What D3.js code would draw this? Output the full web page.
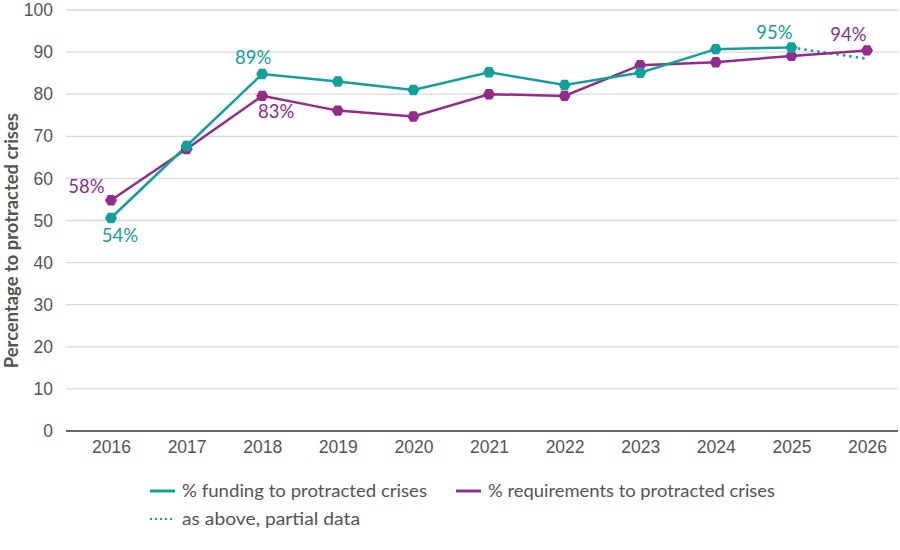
<!DOCTYPE html>
<html lang="en">
<head>
  <meta charset="UTF-8">
  <title>Protracted crises</title>
  <style>
    body { margin: 0; background: #fff; }
    svg { font-family: Lato, "Open Sans", sans-serif; }
    .axis text { fill: #555; }
    .axis path, .axis line { display: none; }
    .grid line { stroke: #d9d9d9; stroke-width: 1.3; }
  </style>
</head>
<body>
  <div id="chart"></div>
  <script src="https://cdn.jsdelivr.net/npm/d3@7"></script>
  <script>
    // data
    var years = ['2016', '2017', '2018', '2019', '2020', '2021', '2022', '2023', '2024', '2025', '2026']
    var funding = [50.6, 67.7, 84.8, 83.0, 81.0, 85.2, 82.2, 85.1, 90.7, 91.1, null]
    var fundingPartial = [null, null, null, null, null, null, null, null, null, 91.1, 88.4]
    var requirements = [54.8, 67.0, 79.6, 76.1, 74.7, 80.0, 79.6, 86.9, 87.6, 89.1, 90.4]
    var yTicks = [0, 10, 20, 30, 40, 50, 60, 70, 80, 90, 100]
    // labels: [series, year, text]
    var labels = [
      ['req', '2016', '58%'],
      ['fund', '2016', '54%'],
      ['fund', '2018', '89%'],
      ['req', '2018', '83%'],
      ['fund', '2025', '95%'],
      ['req', '2026', '94%']
    ]

    var width = 900, height = 550
    var teal = '#11a19b', purple = '#952a8e'
    var padding = {left: 66, right: 2, top: 10, bottom: 119}

    var svg = d3.select('#chart').append('svg')
      .attr('width', width).attr('height', height)

    var xScale = d3.scalePoint()
      .domain(years)
      .range([padding.left + 45, width - padding.right - 31])
    var yScale = d3.scaleLinear()
      .domain([0, 100])
      .range([height - padding.bottom, padding.top])

    // gridlines
    svg.append('g').attr('class', 'grid')
      .selectAll('line').data(yTicks.filter(function (d) { return d > 0 }))
      .enter().append('line')
      .attr('x1', padding.left).attr('x2', width - padding.right)
      .attr('y1', function (d) { return yScale(d) })
      .attr('y2', function (d) { return yScale(d) })
    svg.append('line')
      .attr('x1', padding.left).attr('x2', width - padding.right)
      .attr('y1', yScale(0)).attr('y2', yScale(0))
      .attr('stroke', '#333').attr('stroke-width', 1.6)

    var yAxis = d3.axisLeft(yScale).tickValues(yTicks).tickSize(0).tickPadding(13)
    svg.append('g').attr('class', 'axis')
      .attr('transform', 'translate(' + padding.left + ',0)')
      .call(yAxis)
      .selectAll('text').style('font-size', '17.5px')

    var xAxis = d3.axisBottom(xScale).tickSize(0).tickPadding(10)
    svg.append('g').attr('class', 'axis')
      .attr('transform', 'translate(0,' + yScale(0) + ')')
      .call(xAxis)
      .selectAll('text').style('font-size', '17.5px')

    svg.append('text')
      .attr('transform', 'translate(12,' + yScale(45.2) + ') rotate(-90)')
      .attr('text-anchor', 'middle')
      .attr('dy', '0.35em')
      .attr('textLength', 255).attr('lengthAdjust', 'spacingAndGlyphs')
      .style('font-size', '18px').style('font-weight', 'bold').style('fill', '#555')
      .text('Percentage to protracted crises')

    var line = d3.line()
      .defined(function (d) { return d != null })
      .x(function (d, i) { return xScale(years[i]) })
      .y(function (d) { return yScale(d) })

    svg.append('path').datum(fundingPartial)
      .attr('d', line).attr('fill', 'none')
      .attr('stroke', teal).attr('stroke-width', 2.5)
      .attr('stroke-dasharray', '2.5,4')
    svg.append('path').datum(requirements)
      .attr('d', line).attr('fill', 'none')
      .attr('stroke', purple).attr('stroke-width', 2.5)
    svg.append('path').datum(funding)
      .attr('d', line).attr('fill', 'none')
      .attr('stroke', teal).attr('stroke-width', 2.5)

    // hexagon markers, flat top
    function hexagon(r) {
      var pts = d3.range(6).map(function (k) {
        var a = Math.PI / 3 * k
        return [r * Math.cos(a), r * Math.sin(a)]
      })
      return 'M' + pts.join('L') + 'Z'
    }
    function markers(data, color) {
      svg.append('g').selectAll('path')
        .data(data.map(function (d, i) { return {v: d, y: years[i]} }).filter(function (d) { return d.v != null }))
        .enter().append('path')
        .attr('d', hexagon(6))
        .attr('fill', color)
        .attr('transform', function (d) { return 'translate(' + xScale(d.y) + ',' + yScale(d.v) + ')' })
    }
    markers(requirements, purple)
    markers(funding, teal)

    // data labels
    var offsets = {
      '2016req': [-24.5, -14], '2016fund': [9, 17.5], '2018fund': [-9, -16],
      '2018req': [14, 16], '2025fund': [-17, -15], '2026req': [-18.5, -16]
    }
    svg.append('g').selectAll('text')
      .data(labels).enter().append('text')
      .attr('x', function (d) { return xScale(d[1]) + offsets[d[1] + d[0]][0] })
      .attr('y', function (d) {
        var v = d[0] === 'fund' ? funding[years.indexOf(d[1])] : requirements[years.indexOf(d[1])]
        return yScale(v) + offsets[d[1] + d[0]][1]
      })
      .attr('dy', '0.35em')
      .attr('text-anchor', 'middle')
      .style('font-size', '18.5px')
      .style('fill', function (d) { return d[0] === 'fund' ? teal : purple })
      .text(function (d) { return d[2] })

    // legend
    var legend = [
      {label: '% funding to protracted crises', color: teal, dash: null, x: 150, y: 491, w: 245},
      {label: '% requirements to protracted crises', color: purple, dash: null, x: 456, y: 491, w: 287},
      {label: 'as above, partial data', color: teal, dash: '2,3', x: 150, y: 519, w: 178}
    ]
    var lg = svg.append('g').selectAll('g').data(legend).enter().append('g')
      .attr('transform', function (d) { return 'translate(' + d.x + ',' + d.y + ')' })
    lg.append('line')
      .attr('x1', 0).attr('x2', 25)
      .attr('stroke', function (d) { return d.color })
      .attr('stroke-width', function (d) { return d.dash ? 2 : 3 })
      .attr('stroke-dasharray', function (d) { return d.dash })
    lg.append('text')
      .attr('x', 32).attr('dy', '0.35em')
      .attr('textLength', function (d) { return d.w })
      .attr('lengthAdjust', 'spacingAndGlyphs')
      .style('font-size', '18px').style('fill', '#555')
      .text(function (d) { return d.label })
  </script>
</body>
</html>
